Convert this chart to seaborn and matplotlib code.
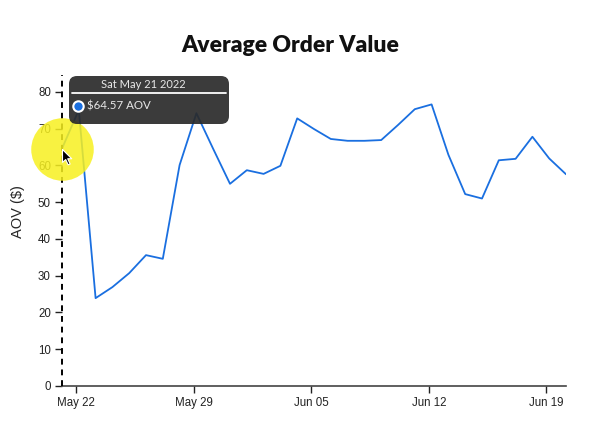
import numpy as np
import pandas as pd
import seaborn as sns
import matplotlib.pyplot as plt
import matplotlib.dates as mdates
from matplotlib.patches import FancyBboxPatch
from matplotlib.path import Path
from matplotlib.lines import Line2D
from matplotlib.transforms import IdentityTransform

sns.set_style("ticks")
plt.rcParams['font.family'] = ['Liberation Sans', 'DejaVu Sans']

# daily AOV
dates = pd.date_range("2022-05-21 04:00", periods=31, freq="D")
aov = [64.57, 75.1, 23.9, 26.9, 30.7, 35.6, 34.6, 60.1, 74.2, 64.5,
       55.0, 58.7, 57.7, 59.9, 72.8, 69.9, 67.2, 66.7, 66.7, 66.9,
       71.0, 75.3, 76.6, 62.9, 52.2, 51.0, 61.4, 61.8, 67.8, 61.9, 57.6]
hover_idx = 0

df = pd.DataFrame({"date": dates, "aov": aov})

fig = plt.figure(figsize=(5.98, 4.32), dpi=100)
ax = fig.add_axes([62 / 598, 46 / 432, 504 / 598, 311 / 432])

sns.lineplot(data=df, x="date", y="aov", ax=ax, color="#1a6fe0", linewidth=1.3)

ax.set_xlim(dates[0], dates[-1])
ax.set_ylim(0, 84.6)
ax.set_yticks(range(0, 90, 10))
ax.xaxis.set_major_locator(mdates.WeekdayLocator(byweekday=mdates.SU))
ax.xaxis.set_major_formatter(mdates.DateFormatter("%b %d"))
ax.set_xlabel("")
ax.set_ylabel("")

for s in ["left", "top", "right"]:
    ax.spines[s].set_visible(False)
ax.spines["bottom"].set_color("#444444")
ax.spines["bottom"].set_linewidth(1.2)
ax.tick_params(axis="both", labelsize=8.3, colors="#222222", length=5, width=1, pad=3)

# hover crosshair
hx, hy = dates[hover_idx], aov[hover_idx]
ax.axvline(hx, color="black", linestyle=(0, (3, 2.5)), linewidth=1.4, clip_on=False, zorder=3)

fig.text(290 / 598, 1 - 46 / 432, "Average Order Value", ha="center", va="center",
         fontsize=16.5, fontweight="heavy", color="#111111", family=["Lato", "DejaVu Sans"])
fig.text(18 / 598, 1 - 212 / 432, "AOV ($)", ha="center", va="center",
         rotation=90, fontsize=10.5)

# tooltip
pix = IdentityTransform()
box = FancyBboxPatch((69, 308), 160, 48, boxstyle="round,pad=0,rounding_size=8",
                     transform=pix, facecolor="#2a2a2a", edgecolor="none", alpha=0.92,
                     zorder=10)
fig.patches.append(box)
fig.lines.append(Line2D([72, 226], [339, 339], transform=pix, color="white",
                        linewidth=1.3, zorder=11))
fig.text(143 / 598, 347 / 432, dates[hover_idx].strftime("%a %b %d %Y"), ha="center",
         va="center", color="#e8e8e8", fontsize=8, family=["Lato", "DejaVu Sans"],
         zorder=12)
fig.lines.append(Line2D([77.7], [326], transform=pix, marker="o", markersize=7.5,
                        markerfacecolor="#1a6fe0", markeredgecolor="white",
                        markeredgewidth=1.5, zorder=12))
fig.text(87 / 598, 326 / 432, "\\$%.2f AOV" % aov[hover_idx], ha="left", va="center",
         color="#e8e8e8", fontsize=8.3, family=["Lato", "DejaVu Sans"], zorder=12)

# cursor highlight and pointer
ax.plot([hx], [hy], marker="o", markersize=45, markerfacecolor="#f7f020",
        markeredgecolor="none", alpha=0.85, clip_on=False, zorder=20)
arrow = Path([(0, 0), (0, -16), (4, -12.5), (7, -19), (9.5, -18), (6.5, -11.5),
              (11.5, -11.5), (0, 0)])
ax.plot([hx], [hy], marker=arrow, markersize=22, markerfacecolor="black",
        markeredgecolor="white", markeredgewidth=0.8, clip_on=False, zorder=21)

fig.savefig("out.png", dpi=100)
